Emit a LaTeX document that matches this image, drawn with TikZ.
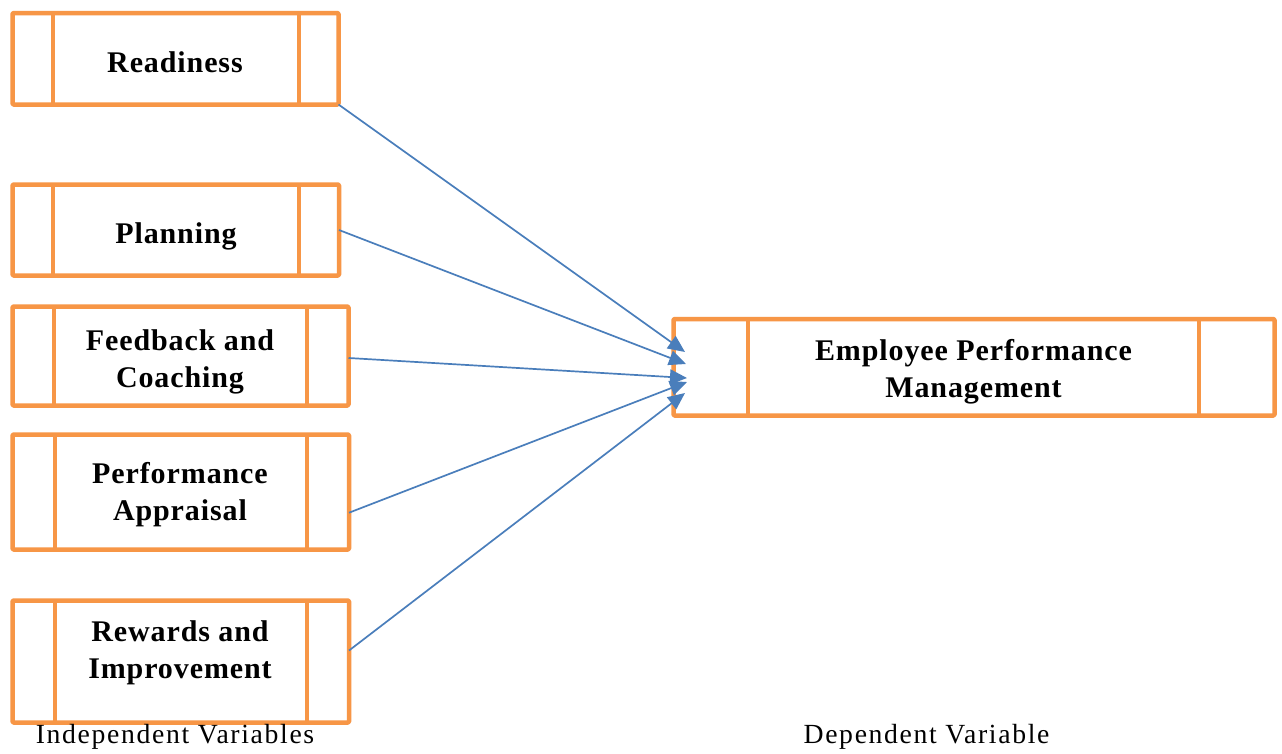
\documentclass[tikz,border=0pt]{standalone}
\usepackage{fontspec}
\setmainfont{Liberation Serif}
\newfontfamily\boxfont[LetterSpace=3]{Liberation Serif}
\newfontfamily\capfont[LetterSpace=6]{Liberation Serif}
\usetikzlibrary{arrows.meta,calc}
\definecolor{boxorange}{HTML}{F79646}
\definecolor{linkblue}{HTML}{4A7EBB}
\begin{document}
\begin{tikzpicture}[x=1pt,y=-1pt,
  varbox/.style={draw=boxorange, line width=4.5pt, line join=round, rounded corners=1pt,
    fill=white, inner sep=0pt, outer sep=0pt},
  divider/.style={draw=boxorange, line width=4.5pt},
  boxtext/.style={font=\fontsize{30}{36.5}\boxfont\bfseries\selectfont, align=center,
    inner sep=0pt, anchor=base},
  captext/.style={font=\fontsize{27.7}{33}\capfont\selectfont, inner sep=0pt, anchor=base},
  link/.style={draw=linkblue, line width=1.7pt, -{Triangle[length=17pt,width=15pt]}}]
\useasboundingbox[fill=white] (0,0) rectangle (1282,753);

% independent variable boxes (text nodes are placed by the baseline of their last line)
\node[varbox, minimum width=326pt, minimum height=91.5pt] (r) at (175.5,58.75) {};
\draw[divider] ([xshift=40.5pt]r.north west) -- ([xshift=40.5pt]r.south west);
\draw[divider] ([xshift=-39.5pt]r.north east) -- ([xshift=-39.5pt]r.south east);
\node[boxtext] (rt) at (175,72) {Readiness};

\node[varbox, minimum width=326.5pt, minimum height=91pt] (p) at (175.75,230) {};
\draw[divider] ([xshift=40.5pt]p.north west) -- ([xshift=40.5pt]p.south west);
\draw[divider] ([xshift=-40pt]p.north east) -- ([xshift=-40pt]p.south east);
\node[boxtext] (pt) at (176,243) {Planning};

\node[varbox, minimum width=336pt, minimum height=99pt] (f) at (180.5,356) {};
\draw[divider] ([xshift=41.5pt]f.north west) -- ([xshift=41.5pt]f.south west);
\draw[divider] ([xshift=-41.5pt]f.north east) -- ([xshift=-41.5pt]f.south east);
\node[boxtext] (ft) at (180,387) {Feedback and\\Coaching};

\node[varbox, minimum width=336.5pt, minimum height=115pt] (a) at (180.75,492) {};
\draw[divider] ([xshift=42.5pt]a.north west) -- ([xshift=42.5pt]a.south west);
\draw[divider] ([xshift=-42pt]a.north east) -- ([xshift=-42pt]a.south east);
\node[boxtext] (at) at (180,520) {Performance\\Appraisal};

\node[varbox, minimum width=336.5pt, minimum height=122pt] (w) at (180.75,661.5) {};
\draw[divider] ([xshift=42.5pt]w.north west) -- ([xshift=42.5pt]w.south west);
\draw[divider] ([xshift=-42pt]w.north east) -- ([xshift=-42pt]w.south east);
\node[boxtext] (wt) at (180,678) {Rewards and\\Improvement};

% dependent variable box
\node[varbox, minimum width=601pt, minimum height=96.5pt] (e) at (974,367.25) {};
\draw[divider] ([xshift=74.5pt]e.north west) -- ([xshift=74.5pt]e.south west);
\draw[divider] ([xshift=-75.5pt]e.north east) -- ([xshift=-75.5pt]e.south east);
\node[boxtext] (et) at (973.5,397) {Employee Performance\\Management};

% captions
\node[captext] (ind) at (175,743) {Independent Variables};
\node[captext] (dep) at (926.5,743) {Dependent Variable};

% arrow tips on the dependent variable box
\coordinate (er) at (685,352);
\coordinate (ep) at (686,364);
\coordinate (ef) at (687,378);
\coordinate (ea) at (687,382);
\coordinate (ew) at (685,393);

% connectors
\draw[link] (r.south east) -- (er);
\draw[link] (p.east) -- (ep);
\draw[link] ($(f.north east)!0.52!(f.south east)$) -- (ef);
\draw[link] ($(a.north east)!0.68!(a.south east)$) -- (ea);
\draw[link] ($(w.north east)!0.41!(w.south east)$) -- (ew);
\end{tikzpicture}
\end{document}
